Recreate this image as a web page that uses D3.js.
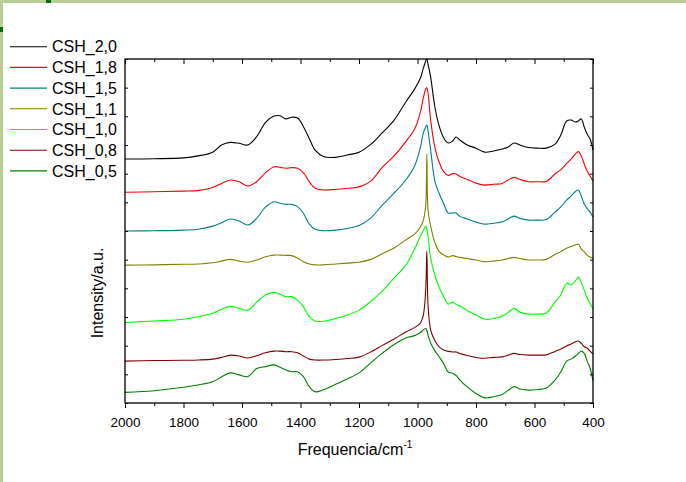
<!DOCTYPE html>
<html>
<head>
<meta charset="utf-8">
<script src="https://cdn.jsdelivr.net/npm/d3@7/dist/d3.min.js"></script>
<style>
  body { margin: 0; background: #fff; }
  svg text { font-family: Arial, "Liberation Sans", sans-serif; fill: #000; }
</style>
</head>
<body>
<div id="chart"></div>
<script>
// shared wavenumber grid (cm-1)
const wavenumbers = [2000, 1900, 1800, 1750, 1700, 1670, 1640, 1610, 1580, 1550,
  1520, 1490, 1470, 1450, 1430, 1410, 1390, 1370, 1350, 1320,
  1280, 1240, 1200, 1160, 1120, 1080, 1040, 1010, 990, 980,
  972, 968, 964, 955, 940, 925, 910, 895, 880, 868,
  855, 830, 800, 770, 740, 710, 690, 670, 650, 620,
  590, 560, 530, 510, 490, 475, 460, 450, 440, 430,
  420, 410, 400];

// intensities (a.u., spectra stacked with offsets)
const csh20 = [8.51, 8.52, 8.55, 8.62, 8.75, 9.00, 9.09, 9.06, 9.00, 9.29,
  9.78, 10.01, 10.02, 9.91, 9.97, 9.94, 9.64, 9.23, 8.82, 8.59,
  8.57, 8.65, 8.75, 9.02, 9.43, 9.87, 10.50, 10.95, 11.34, 11.68,
  11.93, 12.00, 11.82, 11.37, 10.29, 9.63, 9.24, 9.07, 9.14, 9.28,
  9.17, 9.00, 8.89, 8.75, 8.79, 8.86, 8.93, 9.07, 9.00, 8.91,
  8.89, 8.89, 9.03, 9.35, 9.84, 9.87, 9.80, 9.84, 9.91, 9.63,
  9.38, 9.21, 8.82];
const csh18 = [7.35, 7.37, 7.39, 7.41, 7.52, 7.66, 7.78, 7.72, 7.57, 7.72,
  8.03, 8.24, 8.22, 8.19, 8.21, 8.19, 8.03, 7.72, 7.49, 7.43,
  7.45, 7.49, 7.54, 7.74, 8.23, 8.62, 9.12, 9.56, 10.15, 10.64,
  10.95, 11.00, 10.81, 9.87, 8.89, 8.37, 8.06, 7.94, 8.00, 7.99,
  7.90, 7.80, 7.67, 7.60, 7.63, 7.66, 7.78, 7.87, 7.80, 7.72,
  7.72, 7.73, 7.99, 8.14, 8.36, 8.51, 8.69, 8.77, 8.62, 8.34,
  8.09, 7.92, 7.74];
const csh15 = [6.00, 6.01, 6.03, 6.06, 6.17, 6.29, 6.42, 6.35, 6.21, 6.44,
  6.83, 7.02, 6.97, 6.93, 6.93, 6.85, 6.62, 6.24, 6.06, 6.01,
  6.03, 6.09, 6.19, 6.45, 6.91, 7.32, 7.78, 8.27, 8.93, 9.42,
  9.63, 9.70, 9.49, 8.82, 7.71, 7.29, 6.94, 6.63, 6.63, 6.63,
  6.51, 6.42, 6.31, 6.24, 6.27, 6.32, 6.42, 6.52, 6.44, 6.38,
  6.38, 6.40, 6.66, 6.84, 7.08, 7.22, 7.38, 7.43, 7.22, 6.94,
  6.78, 6.66, 6.49];
const csh11 = [4.81, 4.82, 4.84, 4.85, 4.89, 4.95, 5.01, 4.95, 4.91, 4.99,
  5.10, 5.16, 5.16, 5.15, 5.14, 5.05, 4.93, 4.85, 4.82, 4.82,
  4.85, 4.88, 4.91, 5.01, 5.21, 5.41, 5.69, 5.89, 6.14, 6.38,
  6.87, 8.69, 6.73, 6.17, 5.58, 5.27, 5.16, 5.09, 5.14, 5.11,
  5.08, 5.04, 4.99, 4.93, 4.95, 4.99, 5.04, 5.08, 5.04, 4.99,
  4.99, 5.01, 5.18, 5.28, 5.40, 5.46, 5.51, 5.54, 5.37, 5.27,
  5.16, 5.09, 5.04];
const csh10 = [2.81, 2.86, 2.92, 3.01, 3.13, 3.27, 3.37, 3.30, 3.24, 3.52,
  3.77, 3.86, 3.79, 3.71, 3.71, 3.59, 3.36, 3.01, 2.86, 2.85,
  2.95, 3.07, 3.24, 3.54, 3.91, 4.36, 4.81, 5.37, 5.82, 6.03,
  6.17, 6.07, 5.82, 5.06, 4.43, 4.01, 3.70, 3.45, 3.52, 3.44,
  3.38, 3.23, 3.07, 2.92, 2.95, 3.03, 3.16, 3.30, 3.17, 3.10,
  3.10, 3.14, 3.52, 3.77, 4.18, 4.12, 4.27, 4.39, 4.19, 3.94,
  3.66, 3.48, 3.28];
const csh08 = [1.46, 1.48, 1.49, 1.50, 1.53, 1.59, 1.67, 1.64, 1.57, 1.65,
  1.75, 1.81, 1.81, 1.79, 1.79, 1.75, 1.64, 1.53, 1.50, 1.50,
  1.52, 1.55, 1.60, 1.78, 2.01, 2.23, 2.48, 2.63, 2.79, 3.07,
  3.94, 5.30, 3.42, 2.55, 2.16, 1.95, 1.85, 1.80, 1.78, 1.78,
  1.73, 1.66, 1.59, 1.56, 1.59, 1.61, 1.67, 1.73, 1.69, 1.67,
  1.67, 1.68, 1.80, 1.88, 1.99, 2.06, 2.14, 2.16, 2.08, 1.97,
  1.92, 1.81, 1.71];
const csh05 = [0.37, 0.43, 0.55, 0.63, 0.74, 0.91, 1.05, 0.98, 0.92, 1.20,
  1.27, 1.33, 1.25, 1.15, 1.09, 1.09, 0.92, 0.57, 0.39, 0.47,
  0.65, 0.84, 1.05, 1.40, 1.74, 2.04, 2.27, 2.35, 2.46, 2.55,
  2.60, 2.53, 2.37, 2.09, 1.81, 1.60, 1.36, 1.08, 1.04, 0.96,
  0.80, 0.56, 0.33, 0.18, 0.22, 0.30, 0.44, 0.57, 0.49, 0.45,
  0.47, 0.52, 0.80, 1.08, 1.46, 1.53, 1.64, 1.73, 1.81, 1.73,
  1.46, 1.22, 0.77];

const seriesNames = ["CSH_2,0", "CSH_1,8", "CSH_1,5", "CSH_1,1", "CSH_1,0", "CSH_0,8", "CSH_0,5"];
const seriesValues = [csh20, csh18, csh15, csh11, csh10, csh08, csh05];
const seriesColors = ["#000000", "#ff0000", "#008080", "#808000", "#00ff00", "#800000", "#008000"];

const xMajor = [2000, 1800, 1600, 1400, 1200, 1000, 800, 600, 400];
const xMinor = [1900, 1700, 1500, 1300, 1100, 900, 700, 500];
const yTicks = d3.range(0, 13);

const W = 686, H = 482;
const plot = {left: 125, right: 593, top: 59, bottom: 403};

const svg = d3.select("#chart").append("svg")
  .attr("width", W).attr("height", H);

// page border decoration
svg.append("rect").attr("x", 0).attr("y", 0).attr("width", W).attr("height", 3).attr("fill", "#b9cd97");
svg.append("rect").attr("x", 0).attr("y", 0).attr("width", 3).attr("height", H).attr("fill", "#b9cd97");
svg.append("rect").attr("x", 46).attr("y", 0).attr("width", 5).attr("height", 3).attr("fill", "#0b6a0b");
svg.append("rect").attr("x", 0).attr("y", 27).attr("width", 3).attr("height", 5).attr("fill", "#0b6a0b");

const x = d3.scaleLinear().domain([2000, 400]).range([plot.left, plot.right]);
const y = d3.scaleLinear().domain([0, 12]).range([plot.bottom, plot.top]);

// spectra
const line = d3.line()
  .x(d => x(d[0]))
  .y(d => y(d[1]))
  .curve(d3.curveCatmullRom.alpha(0.5));

seriesValues.forEach((vals, i) => {
  svg.append("path")
    .datum(wavenumbers.map((w, j) => [w, vals[j]]))
    .attr("fill", "none")
    .attr("stroke", seriesColors[i])
    .attr("stroke-width", 1.1)
    .attr("d", line);
});

// axes
function styleAxis(g) {
  g.select(".domain").remove();
  g.selectAll(".tick line").attr("stroke", "#000").attr("stroke-width", 1);
}

svg.append("g")
  .attr("transform", `translate(0,${plot.bottom})`)
  .call(d3.axisBottom(x).tickValues(xMajor).tickSize(5).tickPadding(9).tickFormat(d3.format("d")))
  .call(styleAxis)
  .call(g => g.selectAll("text").attr("font-size", "13.5px").attr("fill", "#000"));
svg.append("g")
  .attr("transform", `translate(0,${plot.bottom})`)
  .call(d3.axisBottom(x).tickValues(xMinor).tickSize(3).tickFormat(""))
  .call(styleAxis);
svg.append("g")
  .attr("transform", `translate(0,${plot.top})`)
  .call(d3.axisTop(x).tickValues(xMajor).tickSize(-5).tickFormat(""))
  .call(styleAxis);
svg.append("g")
  .attr("transform", `translate(0,${plot.top})`)
  .call(d3.axisTop(x).tickValues(xMinor).tickSize(-3).tickFormat(""))
  .call(styleAxis);
svg.append("g")
  .attr("transform", `translate(${plot.left},0)`)
  .call(d3.axisLeft(y).tickValues(yTicks).tickSize(-3).tickFormat(""))
  .call(styleAxis);
svg.append("g")
  .attr("transform", `translate(${plot.right},0)`)
  .call(d3.axisRight(y).tickValues(yTicks).tickSize(-3).tickFormat(""))
  .call(styleAxis);

// frame
svg.append("rect")
  .attr("x", plot.left).attr("y", plot.top)
  .attr("width", plot.right - plot.left).attr("height", plot.bottom - plot.top)
  .attr("fill", "none").attr("stroke", "#000").attr("stroke-width", 1.3);

// axis titles
const xt = svg.append("text")
  .attr("x", 355).attr("y", 455)
  .attr("text-anchor", "middle")
  .attr("font-size", "16px");
xt.append("tspan").text("Frequencia/cm");
xt.append("tspan").attr("dy", -7).attr("font-size", "10px").text("-1");

svg.append("text")
  .attr("transform", "translate(103,293) rotate(-90)")
  .attr("text-anchor", "middle")
  .attr("font-size", "16px")
  .text("Intensity/a.u.");

// legend
const legend = svg.append("g");
seriesNames.forEach((name, i) => {
  const ly = 46.7 + i * 20.7;
  legend.append("line")
    .attr("x1", 10).attr("x2", 47).attr("y1", ly).attr("y2", ly)
    .attr("stroke", seriesColors[i]).attr("stroke-width", 1.1);
  legend.append("text")
    .attr("x", 52).attr("y", ly + 5.7)
    .attr("font-size", "16px")
    .text(name);
});
</script>
</body>
</html>
